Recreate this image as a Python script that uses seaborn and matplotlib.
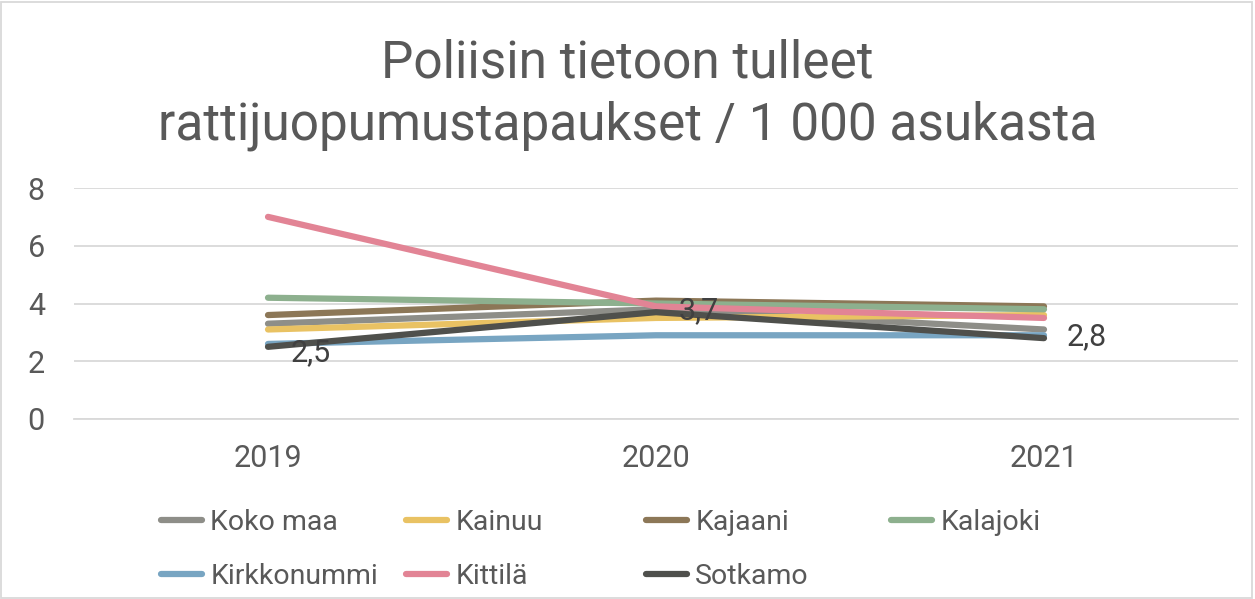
import pandas as pd
import matplotlib.pyplot as plt
import seaborn as sns
from matplotlib.patches import Rectangle

sns.set_theme(style="white")
plt.rcParams['font.family'] = ['Roboto', 'DejaVu Sans']

# Data
years = ['2019', '2020', '2021']
koko_maa = [3.3, 3.8, 3.1]
kainuu = [3.1, 3.5, 3.6]
kajaani = [3.6, 4.1, 3.9]
kalajoki = [4.2, 4.0, 3.8]
kirkkonummi = [2.6, 2.9, 2.9]
kittila = [7.0, 3.9, 3.5]
sotkamo = [2.5, 3.7, 2.8]

series = {
    'Koko maa': koko_maa,
    'Kainuu': kainuu,
    'Kajaani': kajaani,
    'Kalajoki': kalajoki,
    'Kirkkonummi': kirkkonummi,
    'Kittilä': kittila,
    'Sotkamo': sotkamo,
}
colors = ['#8E8E88', '#E9C263', '#8C7757', '#8DB08E', '#78A5C2', '#E28495', '#4F504C']

rows = []
for name, vals in series.items():
    for i, v in enumerate(vals):
        rows.append({'year': i, 'value': v, 'kunta': name})
df = pd.DataFrame(rows)

fig = plt.figure(figsize=(12.55, 5.99), dpi=100)
ax = fig.add_axes([74 / 1255, 1 - 419 / 599, (1238 - 74) / 1255, (419 - 188) / 599])

sns.lineplot(data=df, x='year', y='value', hue='kunta', palette=colors,
             linewidth=4.5, ax=ax, legend=False, solid_capstyle='round')

ax.set_xlim(-0.5, 2.5)
ax.set_ylim(0, 8)
ax.set_xticks(range(len(years)))
ax.set_xticklabels(years)
ax.set_yticks([0, 2, 4, 6, 8])
ax.set_xlabel('')
ax.set_ylabel('')
ax.grid(axis='y', color='#D9D9D9', linewidth=1.3)
for s in ['top', 'right', 'left']:
    ax.spines[s].set_visible(False)
ax.spines['bottom'].set_color('#D9D9D9')
ax.spines['bottom'].set_linewidth(1.3)
ax.tick_params(axis='x', length=0, pad=18, labelsize=22, labelcolor='#595959')
ax.tick_params(axis='y', length=0, pad=21, labelsize=22, labelcolor='#595959')

# Data labels for Sotkamo
ax.annotate('2,5', (0, sotkamo[0]), xytext=(16, -4), textcoords='offset points',
            ha='left', va='center', fontsize=22, color='#404040')
ax.annotate('3,7', (1, sotkamo[1]), xytext=(16, 1), textcoords='offset points',
            ha='left', va='center', fontsize=22, color='#404040')
ax.annotate('2,8', (2, sotkamo[2]), xytext=(16, 1), textcoords='offset points',
            ha='left', va='center', fontsize=22, color='#404040')

fig.text(0.5, 1 - 64 / 599, 'Poliisin tietoon tulleet', ha='center', va='center',
         fontsize=37, color='#595959')
fig.text(0.5, 1 - 126 / 599, 'rattijuopumustapaukset / 1 000 asukasta', ha='center',
         va='center', fontsize=37, color='#595959')

# Legend: four fixed-width columns, filled row by row
names = list(series.keys())
col_x = [152, 397, 637, 882]
for c in range(4):
    idx = [i for i in range(len(names)) if i % 4 == c]
    handles = [plt.Line2D([], [], color=colors[i], linewidth=4.5, solid_capstyle='round')
               for i in idx]
    fig.legend(handles, [names[i] for i in idx], loc='upper left',
               bbox_to_anchor=(col_x[c] / 1255, 1 - 500 / 599), frameon=False,
               fontsize=20.5, handlelength=1.45, handletextpad=0.3, labelspacing=0.95,
               borderpad=0, borderaxespad=0.3, labelcolor='#595959')

fig.add_artist(Rectangle((0.001, 0.002), 0.997, 0.995, transform=fig.transFigure,
                         fill=False, edgecolor='#D9D9D9', linewidth=1.3))

fig.savefig('out.png', dpi=100)
